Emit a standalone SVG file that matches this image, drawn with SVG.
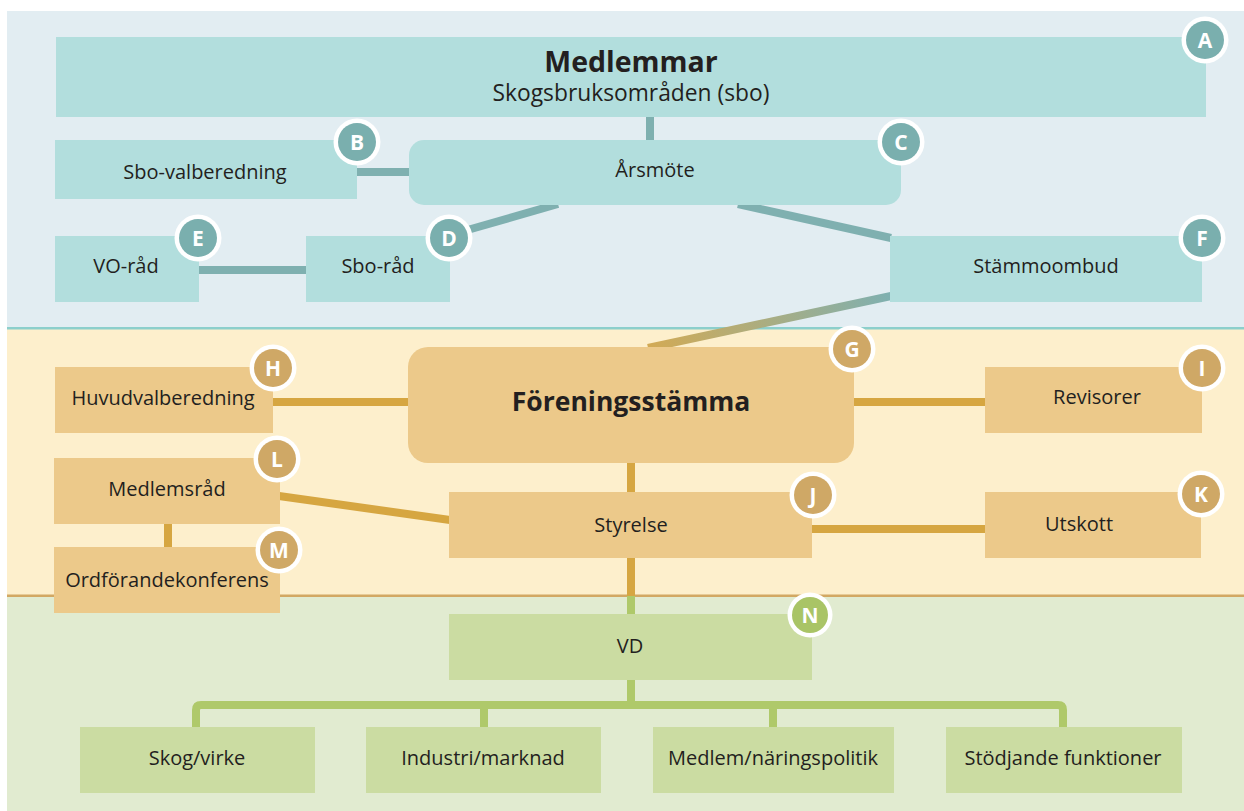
<svg xmlns="http://www.w3.org/2000/svg" width="1244" height="811" viewBox="0 0 1244 811">
<defs>
<style>
text{font-family:"Open Sans","Liberation Sans",sans-serif;fill:#231f20;text-anchor:middle}
.lbl{font-size:20px}
.big{font-size:26.5px;font-weight:bold}
.bl{font-family:"Open Sans","Liberation Sans",sans-serif;font-size:21px;font-weight:bold;fill:#ffffff;text-anchor:middle}
.tbox{fill:#b2dedd}
.gbox{fill:#ecc98a}
.vbox{fill:#cbdca2}
.tl{stroke:#7fb0b0;stroke-width:8;fill:none}
.gl{stroke:#d6a641;stroke-width:8;fill:none}
.vl{stroke:#afc96a;stroke-width:8;fill:none}
.ring{fill:#ffffff}
.tb{fill:#7aafae}
.gb{fill:#cfa866}
.vb{fill:#a9c466}
</style>
<linearGradient id="grad" gradientUnits="userSpaceOnUse" x1="890" y1="296" x2="650" y2="347">
<stop offset="0" stop-color="#7fb0b0"/>
<stop offset="1" stop-color="#d2aa55"/>
</linearGradient>
</defs>
<rect x="0" y="0" width="1244" height="811" fill="#ffffff"/>
<!-- panels -->
<rect x="7" y="11" width="1237" height="317" fill="#e2edf2"/>
<rect x="7" y="328" width="1237" height="268" fill="#fdefcc"/>
<rect x="7" y="596" width="1237" height="215" fill="#e1ebd0"/>
<rect x="7" y="327" width="1237" height="2.5" fill="#8ccfcc"/>
<rect x="7" y="594.5" width="1237" height="2.5" fill="#d2a863"/>

<g id="connectors">
<line class="tl" x1="650" y1="116" x2="650" y2="141"/>
<line class="tl" x1="356" y1="172" x2="410" y2="172"/>
<line class="tl" x1="198" y1="270" x2="307" y2="270"/>
<line class="tl" x1="464" y1="231" x2="558" y2="204"/>
<line class="tl" x1="738" y1="204" x2="891" y2="238"/>
<line stroke="url(#grad)" stroke-width="8" x1="891" y1="296" x2="648" y2="348"/>
<line class="gl" x1="272" y1="402" x2="409" y2="402"/>
<line class="gl" x1="852" y1="402" x2="986" y2="402"/>
<line class="gl" x1="279" y1="496" x2="450" y2="520"/>
<line class="gl" x1="168" y1="523" x2="168" y2="548"/>
<line class="gl" x1="631" y1="462" x2="631" y2="493"/>
<line class="gl" x1="810" y1="529" x2="986" y2="529"/>
<line class="gl" x1="631" y1="557" x2="631" y2="596"/>
<line class="vl" x1="631" y1="596" x2="631" y2="614"/>
<line class="vl" x1="631" y1="679" x2="631" y2="705"/>
<path class="vl" d="M196,728 V710 Q196,705 201,705 H1058 Q1063,705 1063,710 V728"/>
<line class="vl" x1="484" y1="705" x2="484" y2="728"/>
<line class="vl" x1="773" y1="705" x2="773" y2="728"/>
</g>

<g id="node-A">
<rect class="tbox" x="56" y="37" width="1150" height="80"/>
<text class="big" x="631" y="72" style="font-size:28.5px">Medlemmar</text>
<text x="631" y="101" style="font-size:22.8px">Skogsbruksområden (sbo)</text>
<circle class="ring" cx="1205" cy="40" r="23.5"/><circle class="tb" cx="1205" cy="40" r="19"/><text class="bl" x="1205" y="47.5">A</text>
</g>
<g id="node-B">
<rect class="tbox" x="55" y="140" width="302" height="59"/>
<text class="lbl" x="205" y="179">Sbo-valberedning</text>
<circle class="ring" cx="357" cy="142" r="23.5"/><circle class="tb" cx="357" cy="142" r="19"/><text class="bl" x="357" y="149.5">B</text>
</g>
<g id="node-C">
<rect class="tbox" x="409" y="140" width="492" height="65" rx="15"/>
<text class="lbl" x="655" y="177">Årsmöte</text>
<circle class="ring" cx="901" cy="142" r="23.5"/><circle class="tb" cx="901" cy="142" r="19"/><text class="bl" x="901" y="149.5">C</text>
</g>
<g id="node-E">
<rect class="tbox" x="55" y="236" width="144" height="66"/>
<text class="lbl" x="126" y="273">VO-råd</text>
<circle class="ring" cx="198" cy="238" r="23.5"/><circle class="tb" cx="198" cy="238" r="19"/><text class="bl" x="198" y="245.5">E</text>
</g>
<g id="node-D">
<rect class="tbox" x="306" y="236" width="144" height="66"/>
<text class="lbl" x="378" y="273">Sbo-råd</text>
<circle class="ring" cx="449" cy="238" r="23.5"/><circle class="tb" cx="449" cy="238" r="19"/><text class="bl" x="449" y="245.5">D</text>
</g>
<g id="node-F">
<rect class="tbox" x="890" y="236" width="312" height="66"/>
<text class="lbl" x="1046" y="273">Stämmoombud</text>
<circle class="ring" cx="1202" cy="238" r="23.5"/><circle class="tb" cx="1202" cy="238" r="19"/><text class="bl" x="1202" y="245.5">F</text>
</g>
<g id="node-G">
<rect class="gbox" x="408" y="347" width="446" height="116" rx="20"/>
<text class="big" x="631" y="411">Föreningsstämma</text>
<circle class="ring" cx="852" cy="349" r="23.5"/><circle class="gb" cx="852" cy="349" r="19"/><text class="bl" x="852" y="356.5">G</text>
</g>
<g id="node-H">
<rect class="gbox" x="55" y="367" width="218" height="66"/>
<text class="lbl" x="163" y="405">Huvudvalberedning</text>
<circle class="ring" cx="273" cy="368" r="23.5"/><circle class="gb" cx="273" cy="368" r="19"/><text class="bl" x="273" y="375.5">H</text>
</g>
<g id="node-I">
<rect class="gbox" x="985" y="367" width="217" height="66"/>
<text class="lbl" x="1097" y="404">Revisorer</text>
<circle class="ring" cx="1202" cy="368" r="23.5"/><circle class="gb" cx="1202" cy="368" r="19"/><text class="bl" x="1202" y="375.5">I</text>
</g>
<g id="node-L">
<rect class="gbox" x="54" y="458" width="226" height="66"/>
<text class="lbl" x="167" y="496">Medlemsråd</text>
<circle class="ring" cx="277" cy="459" r="23.5"/><circle class="gb" cx="277" cy="459" r="19"/><text class="bl" x="277" y="466.5">L</text>
</g>
<g id="node-M">
<rect class="gbox" x="54" y="547" width="226" height="66"/>
<text class="lbl" x="167" y="587">Ordförandekonferens</text>
<circle class="ring" cx="279" cy="550" r="23.5"/><circle class="gb" cx="279" cy="550" r="19"/><text class="bl" x="279" y="557.5">M</text>
</g>
<g id="node-J">
<rect class="gbox" x="449" y="492" width="363" height="66"/>
<text class="lbl" x="631" y="532">Styrelse</text>
<circle class="ring" cx="813" cy="495" r="23.5"/><circle class="gb" cx="813" cy="495" r="19"/><text class="bl" x="813" y="502.5">J</text>
</g>
<g id="node-K">
<rect class="gbox" x="985" y="492" width="216" height="66"/>
<text class="lbl" x="1079" y="531">Utskott</text>
<circle class="ring" cx="1201" cy="494" r="23.5"/><circle class="gb" cx="1201" cy="494" r="19"/><text class="bl" x="1201" y="501.5">K</text>
</g>
<g id="node-N">
<rect class="vbox" x="449" y="614" width="363" height="66"/>
<text class="lbl" x="630" y="653">VD</text>
<circle class="ring" cx="810" cy="615" r="22.5"/><circle class="vb" cx="810" cy="615" r="18"/><text class="bl" x="810" y="622.5">N</text>
</g>
<g id="node-skog">
<rect class="vbox" x="80" y="727" width="235" height="66"/>
<text class="lbl" x="197" y="765">Skog/virke</text>
</g>
<g id="node-industri">
<rect class="vbox" x="366" y="727" width="235" height="66"/>
<text class="lbl" x="483" y="765">Industri/marknad</text>
</g>
<g id="node-medlem">
<rect class="vbox" x="653" y="727" width="241" height="66"/>
<text class="lbl" x="773" y="765">Medlem/näringspolitik</text>
</g>
<g id="node-stod">
<rect class="vbox" x="946" y="727" width="236" height="66"/>
<text class="lbl" x="1063" y="765">Stödjande funktioner</text>
</g>
</svg>
